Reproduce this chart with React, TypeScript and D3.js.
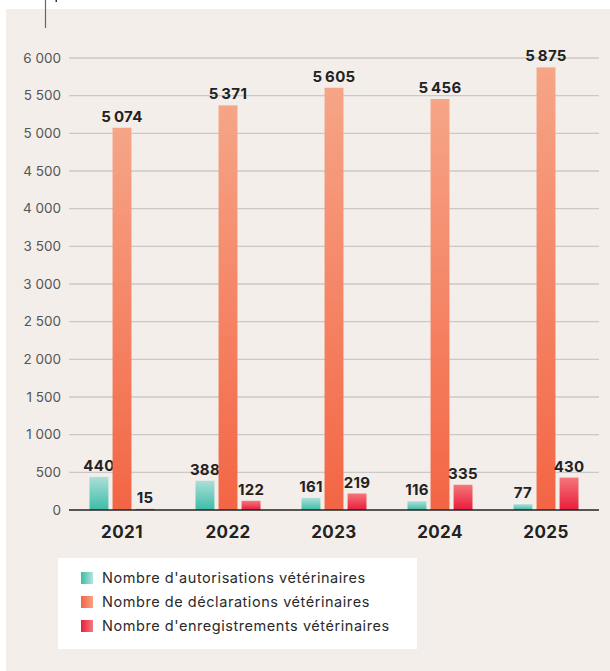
import React from "react";
import * as d3 from "d3";

const years = ["2021", "2022", "2023", "2024", "2025"];
const autorisations = [440, 388, 161, 116, 77];
const declarations = [5074, 5371, 5605, 5456, 5875];
const enregistrements = [15, 122, 219, 335, 430];
const yTicks = [0, 500, 1000, 1500, 2000, 2500, 3000, 3500, 4000, 4500, 5000, 5500, 6000];
const seriesNames = [
  "Nombre d'autorisations vétérinaires",
  "Nombre de déclarations vétérinaires",
  "Nombre d'enregistrements vétérinaires",
];

const W = 610;
const H = 671;
const left = 69;
const right = 599;
const top = 58;
const bottom = 510;

const fmt = (v: number, sep: string) => {
  const s = String(v);
  return s.length > 3 ? s.slice(0, s.length - 3) + sep + s.slice(s.length - 3) : s;
};

export default function App() {
  const x = d3.scaleBand<string>().domain(years).range([left, right]);
  const y = d3.scaleLinear().domain([0, 6000]).range([bottom, top]);
  const series = [autorisations, declarations, enregistrements];
  const inner = d3.scaleBand<number>().domain([0, 1, 2]).range([-32.5, 32.5]).paddingInner(0.18);
  const grads = ["gT", "gO", "gR"];
  const legGrads = ["lT", "lO", "lR"];
  const font = "Inter, 'Noto Sans', sans-serif";

  return (
    <svg width={W} height={H} style={{ position: "absolute", left: 0, top: 0 }} fontFamily={font}>
      <defs>
        <linearGradient id="gT" x1="0" y1="0" x2="0" y2="1">
          <stop offset="0" stopColor="#acdfd9" />
          <stop offset="1" stopColor="#3bbda7" />
        </linearGradient>
        <linearGradient id="gO" x1="0" y1="0" x2="0" y2="1">
          <stop offset="0" stopColor="#f6a587" />
          <stop offset="1" stopColor="#f36544" />
        </linearGradient>
        <linearGradient id="gR" x1="0" y1="0" x2="0" y2="1">
          <stop offset="0" stopColor="#f47779" />
          <stop offset="1" stopColor="#e91c3d" />
        </linearGradient>
        <linearGradient id="lT" x1="0" y1="0" x2="1" y2="0">
          <stop offset="0" stopColor="#3bbda7" />
          <stop offset="1" stopColor="#b5e2dc" />
        </linearGradient>
        <linearGradient id="lO" x1="0" y1="0" x2="1" y2="0">
          <stop offset="0" stopColor="#f36544" />
          <stop offset="1" stopColor="#f8a283" />
        </linearGradient>
        <linearGradient id="lR" x1="0" y1="0" x2="1" y2="0">
          <stop offset="0" stopColor="#e91c3d" />
          <stop offset="1" stopColor="#f47b7c" />
        </linearGradient>
      </defs>
      <rect x={0} y={0} width={W} height={H} fill="#ffffff" />
      <rect x={6} y={9} width={W - 6} height={H - 9} fill="#f3eeea" />
      <line x1={45.5} y1={0} x2={45.5} y2={28} stroke="#666" strokeWidth={1.2} />
      <rect x={55.5} y={0} width={1.5} height={2} fill="#333" />

      {yTicks.map((t) => (
        <g key={t}>
          {t > 0 && (
            <line x1={left} x2={right} y1={y(t)} y2={y(t)} stroke="#cbc8c6" strokeWidth={1.3} />
          )}
          <text x={61} y={y(t)} dy="0.35em" textAnchor="end" fontSize={13.5} fill="#555">
            {fmt(t, "\u00A0")}
          </text>
        </g>
      ))}

      {years.map((yr, i) => {
        const cx = (x(yr) as number) + x.bandwidth() / 2;
        return (
          <g key={yr}>
            {series.map((s, k) => {
              const bx = cx + (inner(k) as number);
              const bw = inner.bandwidth();
              return (
                <g key={k}>
                  <rect
                    x={bx}
                    y={y(s[i])}
                    width={bw}
                    height={bottom - y(s[i])}
                    fill={`url(#${grads[k]})`}
                  />
                  <text
                    x={bx + bw / 2}
                    y={y(s[i]) - 6}
                    textAnchor="middle"
                    fontSize={15}
                    fontWeight={700}
                    letterSpacing={0.3}
                    fill="#222"
                  >
                    {fmt(s[i], "\u2009")}
                  </text>
                </g>
              );
            })}
            <text x={cx} y={538} textAnchor="middle" fontSize={17} fontWeight={700} letterSpacing={0.4} fill="#222">
              {yr}
            </text>
          </g>
        );
      })}
      <line x1={left} x2={right} y1={bottom} y2={bottom} stroke="#222" strokeWidth={1.3} />

      <rect x={58} y={558} width={359} height={91} fill="#ffffff" />
      {seriesNames.map((n, k) => (
        <g key={n}>
          <rect x={81} y={572 + k * 24} width={12} height={12} fill={`url(#${legGrads[k]})`} />
          <text x={102} y={578 + k * 24} dy="0.35em" fontSize={14.5} letterSpacing={0.55} fill="#2a2a2a">
            {n}
          </text>
        </g>
      ))}
    </svg>
  );
}
